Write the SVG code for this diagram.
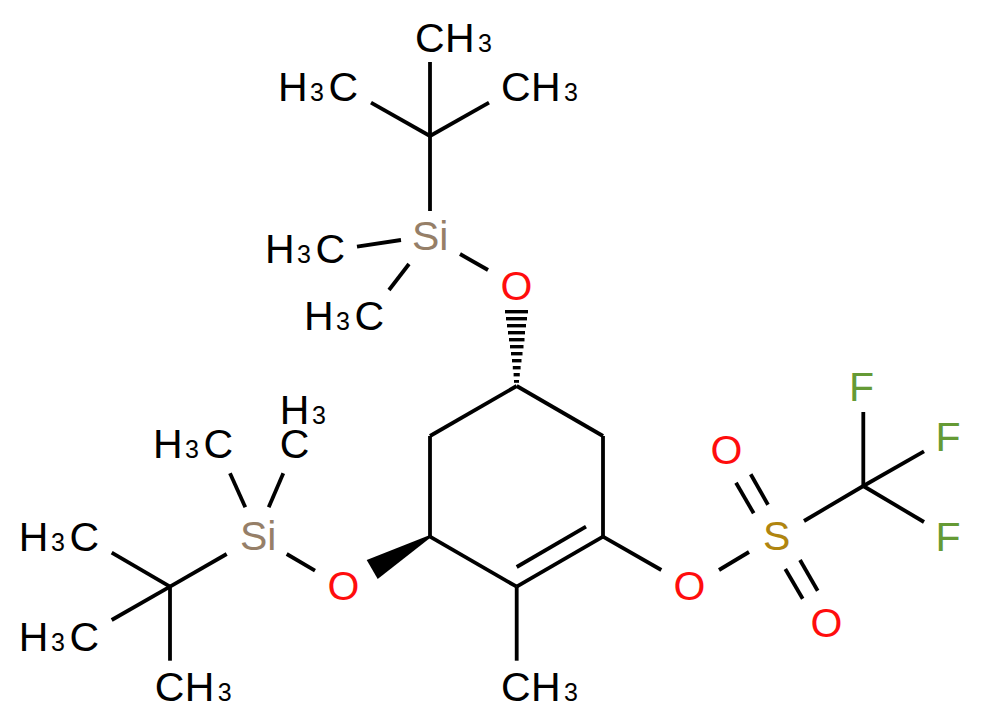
<svg xmlns="http://www.w3.org/2000/svg" width="981" height="726" viewBox="0 0 981 726">
<style>
text{font-family:"Liberation Sans",Arial,sans-serif;font-size:41px;fill:#000}
.s{font-size:25px}
.si{fill:#967f68}.o{fill:#ff0d0d}.f{fill:#659a35}.su{fill:#b0850f}
#connectors line{stroke:#000;stroke-width:3.8;stroke-linecap:butt}
#connectors polygon{fill:#000}
</style>
<rect width="981" height="726" fill="#fff"/>
<g id="connectors">
<line x1="430" y1="62" x2="430" y2="211"/>
<line x1="371" y1="102.7" x2="430" y2="136"/>
<line x1="489" y1="102.7" x2="430" y2="136"/>
<line x1="357" y1="246.7" x2="401" y2="240"/>
<line x1="409" y1="264" x2="389" y2="290"/>
<line x1="460" y1="254" x2="488" y2="270"/>
<polygon points="505,310 528,310 528,313.4 505,313.4"/>
<polygon points="506,317 527,317 527,320.4 506,320.4"/>
<polygon points="507,324 526,324 526,327.4 507,327.4"/>
<polygon points="508,331 525,331 525,334.4 508,334.4"/>
<polygon points="509,338 524.500,338 524.500,341.400 509,341.400"/>
<polygon points="510,345 523.500,345 523.500,348.400 510,348.400"/>
<polygon points="511,352 522.500,352 522.500,355.400 511,355.400"/>
<polygon points="512,359 521.500,359 521.500,362.400 512,362.400"/>
<polygon points="512.800,366 520.600,366 520.600,369.400 512.800,369.400"/>
<polygon points="513.600,373 519.800,373 519.800,376.400 513.600,376.400"/>
<polygon points="514,380 519,380 519,382.800 514,382.800"/>
<line x1="430" y1="436" x2="516.700" y2="386"/>
<line x1="516.700" y1="386" x2="603" y2="436"/>
<line x1="603" y1="436" x2="603" y2="536.700"/>
<line x1="603" y1="536.700" x2="516.700" y2="586.700"/>
<line x1="586" y1="526.700" x2="516.700" y2="567"/>
<line x1="516.700" y1="586.700" x2="430" y2="536.700"/>
<line x1="430" y1="536.700" x2="430" y2="436"/>
<line x1="516.700" y1="586.700" x2="516.700" y2="660.700"/>
<polygon points="430,535 366.700,560 377.700,579 430,538"/>
<line x1="286.700" y1="554" x2="315" y2="570.700"/>
<line x1="226.700" y1="554" x2="170" y2="586.700"/>
<line x1="111.700" y1="552.700" x2="170" y2="586.700"/>
<line x1="111.700" y1="620" x2="170" y2="586.700"/>
<line x1="170" y1="586.700" x2="170" y2="660.700"/>
<line x1="230" y1="473.300" x2="245.300" y2="507.300"/>
<line x1="283.300" y1="473.300" x2="268.700" y2="507.300"/>
<line x1="603" y1="536.700" x2="661.300" y2="570"/>
<line x1="719" y1="570" x2="749" y2="552"/>
<line x1="736" y1="482.700" x2="753.700" y2="513.300"/>
<line x1="750.700" y1="474.300" x2="768" y2="504.700"/>
<line x1="785.300" y1="569" x2="802.700" y2="598.700"/>
<line x1="800" y1="560" x2="817.700" y2="590.700"/>
<line x1="804" y1="521" x2="863.300" y2="486"/>
<line x1="863.300" y1="486" x2="863.300" y2="412"/>
<line x1="863.300" y1="486" x2="924" y2="451.300"/>
<line x1="863.300" y1="486" x2="924" y2="522"/>
</g>
<g id="ch3-top"><text y="52"><tspan x="415">C</tspan><tspan x="445">H</tspan><tspan class="s" x="478">3</tspan></text></g>
<g id="h3c-top-left"><text y="101"><tspan x="278">H</tspan><tspan class="s" x="310">3</tspan><tspan x="328.500">C</tspan></text></g>
<g id="ch3-top-right"><text y="101"><tspan x="501">C</tspan><tspan x="531">H</tspan><tspan class="s" x="564">3</tspan></text></g>
<g id="si-top"><text class="si" x="412" y="250">Si</text></g>
<g id="h3c-si-top-1"><text y="263"><tspan x="265">H</tspan><tspan class="s" x="297">3</tspan><tspan x="315.500">C</tspan></text></g>
<g id="h3c-si-top-2"><text y="330"><tspan x="304">H</tspan><tspan class="s" x="336">3</tspan><tspan x="354.500">C</tspan></text></g>
<g id="o-top"><text class="o" x="500.500" y="300">O</text></g>
<g id="o-left"><text class="o" x="327.500" y="600">O</text></g>
<g id="si-left"><text class="si" x="240" y="550">Si</text></g>
<g id="h3-left"><text y="424"><tspan x="279.700">H</tspan><tspan class="s" x="312">3</tspan></text></g>
<g id="c-left"><text x="279.700" y="458">C</text></g>
<g id="h3c-si-left"><text y="458"><tspan x="153">H</tspan><tspan class="s" x="185">3</tspan><tspan x="203.500">C</tspan></text></g>
<g id="h3c-left-1"><text y="551"><tspan x="18.700">H</tspan><tspan class="s" x="51">3</tspan><tspan x="69.500">C</tspan></text></g>
<g id="h3c-left-2"><text y="651"><tspan x="18.700">H</tspan><tspan class="s" x="51">3</tspan><tspan x="69.500">C</tspan></text></g>
<g id="ch3-left"><text y="701"><tspan x="154.700">C</tspan><tspan x="184.700">H</tspan><tspan class="s" x="217.700">3</tspan></text></g>
<g id="ch3-bottom"><text y="701"><tspan x="501">C</tspan><tspan x="531">H</tspan><tspan class="s" x="564">3</tspan></text></g>
<g id="o-ester"><text class="o" x="673.500" y="600">O</text></g>
<g id="s"><text class="su" x="763" y="550">S</text></g>
<g id="o-s-up"><text class="o" x="710.500" y="464">O</text></g>
<g id="o-s-down"><text class="o" x="810.500" y="637">O</text></g>
<g id="f1"><text class="f" x="849" y="401">F</text></g>
<g id="f2"><text class="f" x="935.500" y="451">F</text></g>
<g id="f3"><text class="f" x="935.500" y="551">F</text></g>
</svg>
